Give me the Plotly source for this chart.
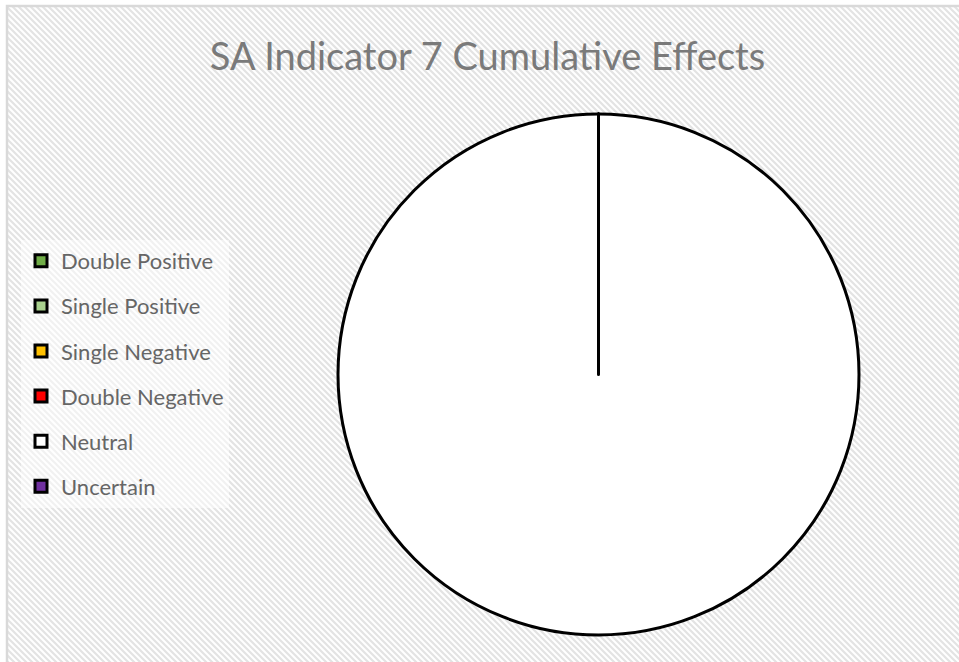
import base64
import plotly.graph_objects as go

labels = ["Double Positive", "Single Positive", "Single Negative", "Double Negative", "Neutral", "Uncertain"]
values = [0, 0, 0, 0, 1, 0]
colors = ["#70ad47", "#a9d18e", "#ffc000", "#ff0000", "#ffffff", "#7030a0"]
title_text = "SA Indicator 7 Cumulative Effects"

W, H = 959, 662


def px(x):  # screen x -> paper fraction
    return x / W


def py(y):  # screen y -> paper fraction
    return 1 - y / H


svg = f'''<svg xmlns="http://www.w3.org/2000/svg" width="{W}" height="{H}">
<defs><pattern id="p" patternUnits="userSpaceOnUse" width="6" height="6">
<rect width="6" height="6" fill="#ffffff"/>
<path d="M-1,-1 L7,7 M-1,5 L1,7 M5,-1 L7,1" stroke="#e3e3e3" stroke-width="2.2"/>
</pattern></defs>
<rect width="{W}" height="{H}" fill="#ffffff"/>
<rect x="8" y="7" width="{W}" height="{H}" fill="url(#p)"/>
<path d="M7,{H} L7,6 L{W},6" stroke="#d9d9d9" stroke-width="2.5" fill="none"/>
</svg>'''
src = "data:image/svg+xml;base64," + base64.b64encode(svg.encode()).decode()

fig = go.Figure()

# legend entries (one per category, separate groups for spacing); hidden behind the main pie
for lab, col in zip(labels, colors):
    fig.add_trace(go.Pie(
        labels=[lab], values=[1], sort=False, legendgroup=lab, showlegend=True,
        marker=dict(colors=[col], line=dict(color="#000000", width=3)),
        textinfo="none", hoverinfo="skip",
        domain=dict(x=[px(590), px(600)], y=[py(380), py(370)]),
    ))

fig.add_trace(go.Pie(
    labels=labels, values=values, sort=False, direction="clockwise", rotation=0,
    marker=dict(colors=colors, line=dict(color="#000000", width=3)),
    textinfo="none", hoverinfo="label+value", showlegend=False,
    domain=dict(x=[px(338), px(859)], y=[py(636), py(113)]),
))

fig.update_layout(
    width=W, height=H,
    margin=dict(l=0, r=0, t=0, b=0),
    paper_bgcolor="#ffffff", plot_bgcolor="rgba(0,0,0,0)",
    title=dict(text=title_text, x=px(487.5), xanchor="center", xref="paper",
               y=py(57), yanchor="middle",
               font=dict(family="Lato, sans-serif", size=38, color="#7a7a7a")),
    legend=dict(x=px(21), y=py(240), xanchor="left", yanchor="top",
                bgcolor="rgba(255,255,255,0.5)", tracegroupgap=13.5,
                font=dict(family="Lato, sans-serif", size=22, color="#666666")),
    images=[dict(source=src, xref="paper", yref="paper", x=0, y=1, sizex=1, sizey=1,
                 xanchor="left", yanchor="top", sizing="stretch", layer="below")],
)

fig.write_html(
    "out.html",
    config={"displayModeBar": False},
    post_script="document.body.style.margin='0';document.body.style.overflow='hidden';",
)
